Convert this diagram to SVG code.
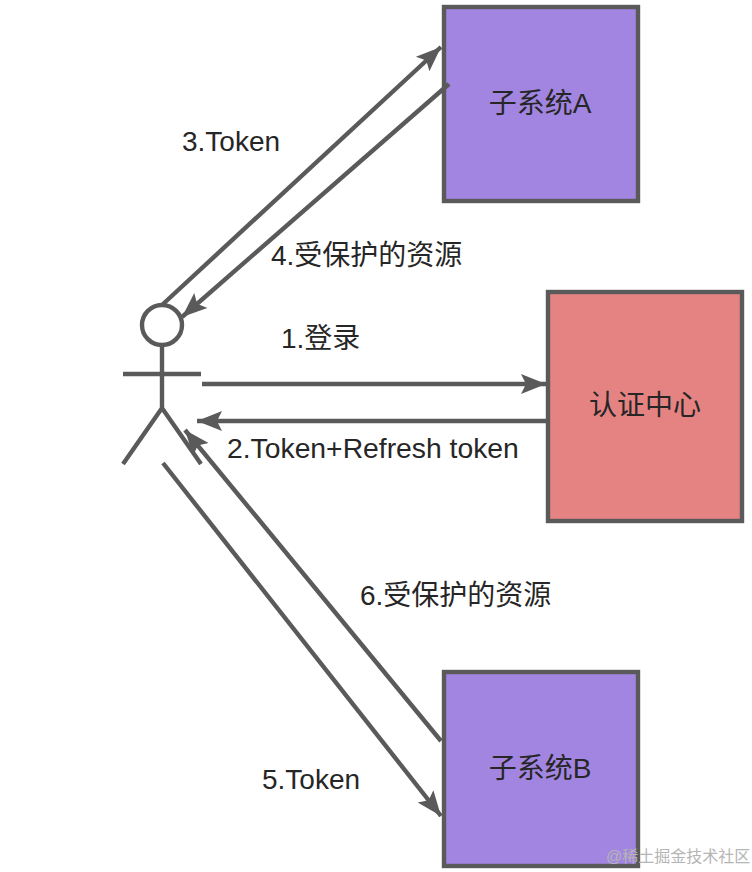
<svg xmlns="http://www.w3.org/2000/svg" width="752" height="872" viewBox="0 0 752 872">
<style>
text{font-family:"Liberation Sans","Noto Sans CJK SC",sans-serif;font-size:28px;fill:#262626}
.b{stroke:#5a5a5a;stroke-width:4.4}
.p{fill:#a285e0}.r{fill:#e58383}
.l{stroke:#5a5a5a;stroke-width:4.4;fill:none}
</style>
<defs><marker id="a" markerUnits="userSpaceOnUse" markerWidth="26" markerHeight="24" refX="25" refY="12" orient="auto"><path d="M0 2L25 12L0 22L5 12z" fill="#5a5a5a"/></marker></defs>
<rect width="752" height="872" fill="#fff"/>
<g id="actor"><circle class="l" cx="162" cy="325" r="20"/><path class="l" d="M162 345V408M123 374H201M123 464L162 408L201 464"/></g>
<g id="a-node"><rect class="b p" x="444" y="7" width="194" height="194"/><text x="540" y="113" text-anchor="middle">子系统A</text></g>
<g id="auth"><rect class="b r" x="548" y="292" width="194" height="229"/><text x="645" y="415" text-anchor="middle">认证中心</text></g>
<g id="b-node"><rect class="b p" x="444" y="672" width="194" height="194"/><text x="540" y="778" text-anchor="middle">子系统B</text></g>
<g id="connectors">
<path class="l" d="M162 305L441 47" marker-end="url(#a)"/>
<path class="l" d="M449 84L182 317" marker-end="url(#a)"/>
<path class="l" d="M202 384H546" marker-end="url(#a)"/>
<path class="l" d="M548 421H197" marker-end="url(#a)"/>
<path class="l" d="M163 463L441 816" marker-end="url(#a)"/>
<path class="l" d="M441 741L185 430" marker-end="url(#a)"/>
</g>
<g id="labels">
<text x="182" y="151">3.Token</text><text x="271" y="265">4.受保护的资源</text><text x="281" y="348">1.登录</text><text x="227" y="458" style="font-size:28.3px">2.Token+Refresh token</text><text x="360" y="605">6.受保护的资源</text><text x="262" y="789">5.Token</text>
<text x="606" y="862" style="font-size:16px;fill:#b5b5b5">@稀土掘金技术社区</text>
</g>
</svg>
